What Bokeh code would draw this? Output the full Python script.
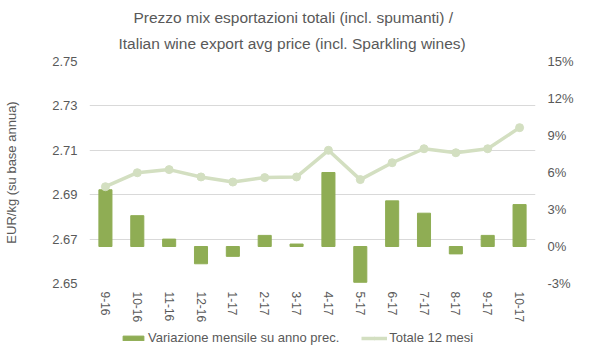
from bokeh.plotting import figure
from bokeh.layouts import column
from bokeh.models import (Range1d, FactorRange, LinearAxis, FixedTicker, NumeralTickFormatter,
                          PrintfTickFormatter, Legend, LegendItem, Title, ColumnDataSource)
from bokeh.embed import file_html
from bokeh.resources import INLINE

months = ["9-16", "10-16", "11-16", "12-16", "1-17", "2-17", "3-17", "4-17",
          "5-17", "6-17", "7-17", "8-17", "9-17", "10-17"]
var_pct = [4.6, 2.5, 0.6, -1.4, -0.8, 0.9, 0.2, 6.0, -2.9, 3.7, 2.7, -0.6, 0.9, 3.4]
total_12m = [2.6936, 2.6999, 2.7013, 2.6980, 2.6957, 2.6977, 2.6980, 2.7100,
             2.6968, 2.7044, 2.7107, 2.7089, 2.7107, 2.7202]
left_ticks = [2.65, 2.67, 2.69, 2.71, 2.73, 2.75]
right_ticks = [-3, 0, 3, 6, 9, 12, 15]

FONT = "Liberation Sans"
GREY = "#595959"
BAR = "#8FAD54"
LINE = "#D3DFC1"

src = ColumnDataSource(dict(m=months, v=var_pct, t=total_12m))

p = figure(frame_width=446, frame_height=222, x_range=FactorRange(*months, range_padding=0),
           y_range=Range1d(2.65, 2.75), output_backend="svg", toolbar_location=None,
           min_border_left=89, min_border_right=64, min_border_bottom=47, min_border_top=61,
           outline_line_color=None, background_fill_color="white", border_fill_color="white")
p.extra_y_ranges = {"pct": Range1d(-3, 15)}

p.add_layout(Title(text="Italian wine export avg price (incl. Sparkling wines)", align="left",
                   text_font=FONT, text_font_size="15.5px", text_font_style="normal",
                   text_color=GREY, offset=29, standoff=19), "above")
p.add_layout(Title(text="Prezzo mix esportazioni totali (incl. spumanti) /", align="left",
                   text_font=FONT, text_font_size="15.5px", text_font_style="normal",
                   text_color=GREY, offset=44, standoff=-4), "above")

p.vbar(x="m", top="v", bottom=0, width=0.41, color=BAR, y_range_name="pct", source=src)
p.line(x="m", y="t", line_color=LINE, line_width=3.5, source=src)
p.scatter(x="m", y="t", size=8, color=LINE, source=src)

# left axis
ya = p.yaxis[0]
ya.ticker = FixedTicker(ticks=left_ticks)
ya.formatter = NumeralTickFormatter(format="0.00")
ya.axis_label = "EUR/kg (su base annua)"
ya.axis_label_text_font = FONT
ya.axis_label_text_font_size = "13px"
ya.axis_label_text_font_style = "normal"
ya.axis_label_text_color = GREY
ya.axis_label_standoff = 30

# right axis
ra = LinearAxis(y_range_name="pct", ticker=FixedTicker(ticks=right_ticks),
                formatter=PrintfTickFormatter(format="%d%%"))
p.add_layout(ra, "right")

for ax in [ya, ra]:
    ax.major_label_text_font = FONT
    ax.major_label_text_font_size = "13px"
    ax.major_label_text_color = GREY
    ax.major_label_standoff = 12

xa = p.xaxis[0]
for ax in [ya, ra, xa]:
    ax.axis_line_color = None
    ax.major_tick_line_color = None
    ax.minor_tick_line_color = None
    ax.major_tick_out = 0
    ax.major_tick_in = 0
    ax.minor_tick_out = 0
    ax.minor_tick_in = 0

xa.major_label_orientation = "vertical"
xa.major_label_text_font = FONT
xa.major_label_text_font_size = "12px"
xa.major_label_text_color = GREY
xa.major_label_standoff = 8
xa.axis_label_standoff = 0

p.xgrid.grid_line_color = None
p.ygrid.grid_line_color = "#D9D9D9"
p.ygrid.ticker = FixedTicker(ticks=left_ticks)

# legend strip below the chart (key renderers use the same data, kept out of view)
lg = figure(width=599, height=26, x_range=FactorRange(*months, range_padding=0),
            y_range=Range1d(100, 101),
            output_backend="svg", toolbar_location=None, min_border=0,
            x_axis_location=None, y_axis_location=None,
            outline_line_color=None, background_fill_color="white", border_fill_color="white")
lg.grid.visible = False
bar_key = lg.vbar(x="m", top="v", bottom=0, width=0.41, color=BAR, source=src)
line_key = lg.line(x="m", y="t", line_color=LINE, line_width=3.5, source=src)
pt_key = lg.scatter(x="m", y="t", size=8, color=LINE, source=src)

legend = Legend(items=[LegendItem(label="Variazione mensile su anno prec.", renderers=[bar_key]),
                       LegendItem(label="Totale 12 mesi", renderers=[line_key, pt_key])],
                orientation="horizontal", location=(31, 11), padding=0, margin=0,
                spacing=22, glyph_width=26, glyph_height=6, label_standoff=2,
                label_text_font=FONT, label_text_font_size="13px", label_text_color=GREY,
                border_line_color=None, background_fill_alpha=0)
lg.add_layout(legend, "center")

layout = column(p, lg, spacing=0)
open("out.html", "w").write(file_html(layout, INLINE))
